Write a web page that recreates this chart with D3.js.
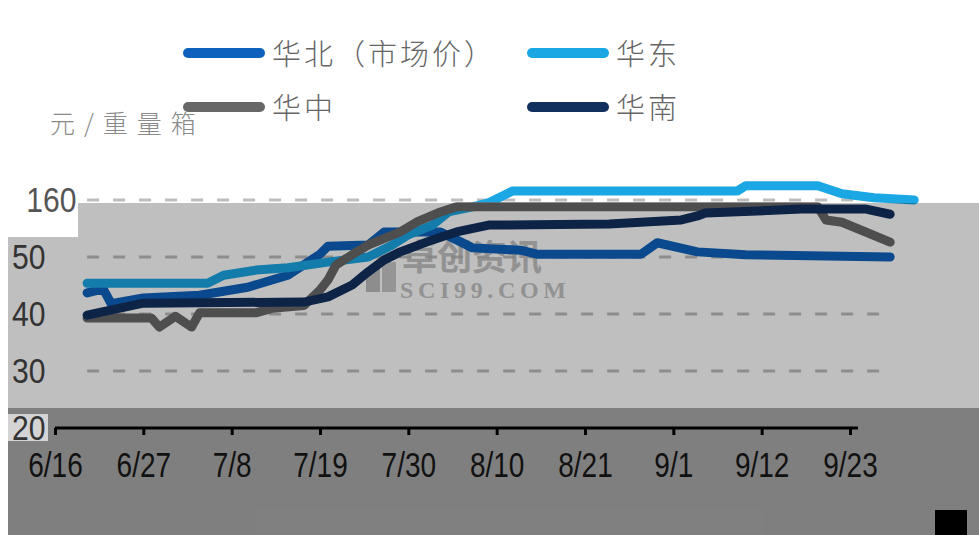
<!DOCTYPE html>
<html>
<head>
<meta charset="utf-8">
<script src="https://cdn.jsdelivr.net/npm/d3@7"></script>
<style>
  body { margin: 0; background: #fff; }
  svg { display: block; }
</style>
</head>
<body>
<div id="chart"></div>
<script>
// data
var seriesNames = ["华北（市场价）", "华东", "华中", "华南"];
var seriesColors = ["#0e62bd", "#1ba6e4", "#686868", "#12305e"];

var huabeiDates = ["6/20","6/22","6/23","6/27","7/4","7/10","7/15","7/19","7/20","7/25","7/27","8/3","8/5","8/7","8/13","8/15","8/28","8/30","9/4","9/10","9/28"];
var huabeiValues = [43.7,44.4,41.8,42.8,43.3,44.7,46.8,50.5,51.9,52.1,54.4,54.4,53.0,51.6,51.2,50.5,50.5,52.5,50.9,50.4,50.0];

var huadongDates = ["6/20","7/5","7/7","7/11","7/15","7/20","7/25","7/28","7/30","8/2","8/4","8/7","8/9","8/12","9/9","9/10","9/19","9/22","9/26","10/1"];
var huadongValues = [45.4,45.4,46.8,47.7,48.1,49.1,50.0,52.1,53.9,55.6,57.9,58.8,59.5,61.6,61.6,62.5,62.5,61.1,60.4,60.0];

var huazhongDates = ["6/20","6/28","6/29","7/1","7/3","7/4","7/11","7/13","7/17","7/19","7/20","7/21","7/23","7/25","7/29","7/31","8/3","8/5","9/19","9/20","9/22","9/28"];
var huazhongValues = [39.3,39.3,37.7,39.6,37.7,40.2,40.2,41.0,41.5,44.2,46.0,48.6,50.4,52.1,54.4,56.1,57.9,58.8,58.8,56.5,56.1,52.6];

var huananDates = ["6/20","6/27","7/17","7/20","7/23","7/25","7/27","7/29","8/2","8/5","8/9","8/24","9/2","9/4","9/5","9/17","9/25","9/28"];
var huananValues = [39.8,41.9,42.1,43.0,45.1,47.4,49.5,50.9,53.0,54.4,55.6,55.8,56.5,57.2,57.7,58.4,58.4,57.5];

var tickDates = ["6/16","6/27","7/8","7/19","7/30","8/10","8/21","9/1","9/12","9/23"];
var yTicks = [20, 30, 40, 50, 60];
var gridValues = [30, 40, 50, 60];

var svgWidth = 979;
var svgHeight = 535;

var parseDay = function(s) { return d3.timeParse("%Y/%m/%d")("2020/" + s); };

function makeSeries(dates, values) {
  return dates.map(function(d, i) { return { date: parseDay(d), value: values[i] }; });
}

var series = [
  makeSeries(huabeiDates, huabeiValues),
  makeSeries(huadongDates, huadongValues),
  makeSeries(huazhongDates, huazhongValues),
  makeSeries(huananDates, huananValues)
];

var svg = d3.select("#chart")
  .append("svg")
  .attr("width", svgWidth)
  .attr("height", svgHeight);

svg.append("rect").attr("width", svgWidth).attr("height", svgHeight).attr("fill", "#fff");

var xScale = d3.scaleTime()
  .domain([parseDay(tickDates[0]), parseDay(tickDates[tickDates.length - 1])])
  .range([55, 850]);

var yScale = d3.scaleLinear()
  .domain([20, 60])
  .range([428, 200]);

// dashed gridlines over the span of the data
var gridExtent = d3.extent(series[0], d => d.date);
svg.append("g")
  .selectAll("line")
  .data(gridValues)
  .enter()
  .append("line")
  .attr("x1", xScale(gridExtent[0]))
  .attr("x2", xScale(gridExtent[1]))
  .attr("y1", d => yScale(d))
  .attr("y2", d => yScale(d))
  .attr("stroke", "#bdbdbd")
  .attr("stroke-width", 3)
  .attr("stroke-dasharray", "12,14");

// watermark
var mark = svg.append("g").attr("opacity", 0.75);
mark.append("rect").attr("x", 366).attr("y", 268).attr("width", 14).attr("height", 24).attr("fill", "#a8a8a8");
mark.append("rect").attr("x", 382).attr("y", 262).attr("width", 14).attr("height", 30).attr("fill", "#b5b5b5");
mark.append("text")
  .attr("x", 402).attr("y", 270)
  .attr("font-family", "'Noto Sans CJK SC', sans-serif")
  .attr("font-weight", 700)
  .attr("font-size", 35)
  .attr("fill", "#b0b0b0")
  .text("卓创资讯");
mark.append("text")
  .attr("x", 400).attr("y", 298)
  .attr("font-family", "'Liberation Serif', serif")
  .attr("font-weight", 700)
  .attr("font-size", 24)
  .attr("textLength", 166)
  .attr("fill", "#b0b0b0")
  .text("SCI99.COM");

// lines
var line = d3.line()
  .x(d => xScale(d.date))
  .y(d => yScale(d.value));

svg.append("g")
  .selectAll("path")
  .data(series)
  .enter()
  .append("path")
  .attr("d", d => line(d))
  .attr("fill", "none")
  .attr("stroke", (d, i) => seriesColors[i])
  .attr("stroke-width", 9)
  .attr("stroke-linejoin", "round")
  .attr("stroke-linecap", "round");

// legend
var legend = svg.append("g");
seriesNames.forEach(function(name, i) {
  var col = i % 2, row = Math.floor(i / 2);
  var lx = 188 + col * 344, ly = 53 + row * 54;
  legend.append("line")
    .attr("x1", lx).attr("x2", lx + 72)
    .attr("y1", ly).attr("y2", ly)
    .attr("stroke", seriesColors[i])
    .attr("stroke-width", 10)
    .attr("stroke-linecap", "round");
  legend.append("text")
    .attr("x", lx + 84).attr("y", ly + 2)
    .attr("dy", "0.36em")
    .attr("font-family", "'Noto Sans CJK SC', sans-serif")
    .attr("font-weight", 300)
    .attr("font-size", 29)
    .attr("letter-spacing", 3)
    .attr("fill", "#666")
    .text(name);
});

svg.append("text")
  .attr("x", 50).attr("y", 124)
  .attr("dy", "0.36em")
  .attr("font-family", "'Noto Sans CJK SC', sans-serif")
  .attr("font-weight", 300)
  .attr("font-size", 25)
  .attr("letter-spacing", 9)
  .attr("fill", "#8a8a8a")
  .text("元/重量箱");

// the darkened bands over the picture
svg.append("path")
  .attr("d", "M78,203H979V408H8V237H78Z")
  .attr("fill", "#000")
  .attr("fill-opacity", 0.25);
svg.append("rect")
  .attr("x", 8).attr("y", 408).attr("width", 971).attr("height", 127)
  .attr("fill", "#000")
  .attr("fill-opacity", 0.5);
svg.append("rect")
  .attr("x", 8).attr("y", 414).attr("width", 40).attr("height", 27)
  .attr("fill", "#d4d4d4");
svg.append("rect")
  .attr("x", 935).attr("y", 510).attr("width", 32).attr("height", 25)
  .attr("fill", "#000");

// y axis labels (narrowed like the source's condensed digits)
var numFont = "'Liberation Sans', Arial, sans-serif";
var yAxis = svg.append("g")
  .attr("transform", "translate(48,0)")
  .call(d3.axisLeft(yScale).tickValues(yTicks).tickSize(0).tickPadding(3)
    .tickFormat(d => d === 60 ? "160" : d));
yAxis.select(".domain").remove();
yAxis.selectAll("text")
  .attr("font-family", numFont)
  .attr("font-size", 35)
  .attr("fill", d => d === 60 ? "#555" : "#333")
  .attr("dx", d => d === 60 ? 36 : 0)
  .attr("transform", "scale(0.86,1)");

// x axis
var xAxis = svg.append("g")
  .attr("transform", "translate(0,428)")
  .call(d3.axisBottom(xScale).tickValues(tickDates.map(parseDay)).tickSize(7).tickSizeOuter(0)
    .tickFormat(d3.timeFormat("%-m/%-d")));
xAxis.select(".domain").attr("stroke", "#000").attr("stroke-width", 3)
  .attr("d", "M55,0H858");
xAxis.selectAll(".tick line").attr("stroke", "#000").attr("stroke-width", 3);
xAxis.selectAll("text")
  .attr("y", 24)
  .attr("font-family", numFont)
  .attr("font-size", 35)
  .attr("fill", "#111")
  .attr("transform", "scale(0.8,1)");
</script>
</body>
</html>
